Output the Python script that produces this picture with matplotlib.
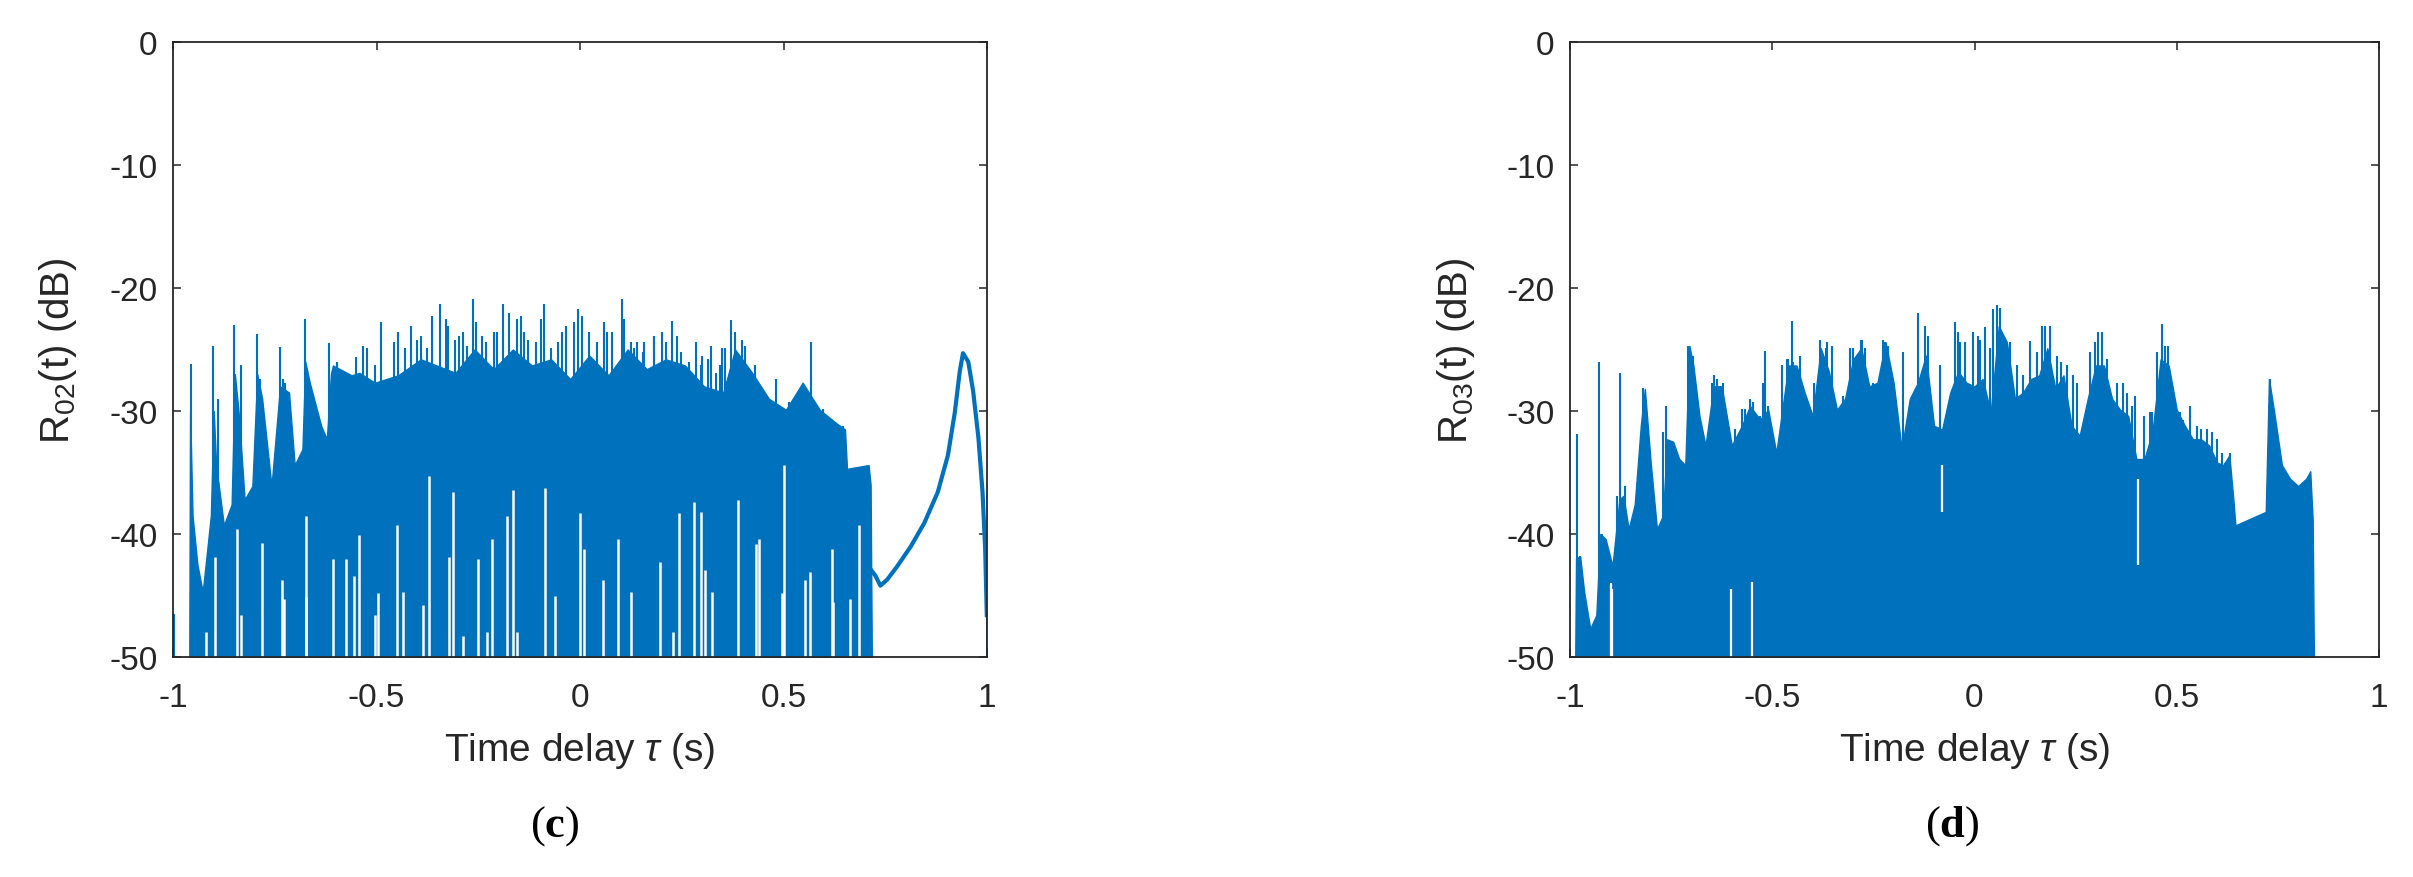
import matplotlib
matplotlib.use('Agg')
import matplotlib.pyplot as plt

plt.rcParams['font.family'] = ['Liberation Sans', 'DejaVu Sans']
plt.rcParams['mathtext.fontset'] = 'custom'
plt.rcParams['mathtext.rm'] = 'Liberation Sans'
plt.rcParams['mathtext.it'] = 'Liberation Sans:italic'
plt.rcParams['mathtext.bf'] = 'Liberation Serif:bold'

BLUE = '#0072BD'
DARK = '#262626'

# ---------------- data ----------------
XTICKS = [-1, -0.5, 0, 0.5, 1]
XTICK_LABELS = ['-1', '-0.5', '0', '0.5', '1']
YTICKS = [-50, -40, -30, -20, -10, 0]
YTICK_LABELS = ['-50', '-40', '-30', '-20', '-10', '0']

# panel (c): R02 — upper envelope of the dense body
L_ENV_TAU = [-0.960, -0.958, -0.952, -0.940, -0.927, -0.915, -0.907, -0.900, -0.894, -0.875,
             -0.856, -0.848, -0.838, -0.824, -0.805, -0.793, -0.781, -0.758, -0.737, -0.715,
             -0.701, -0.682, -0.675, -0.664, -0.636, -0.622, -0.612, -0.607, -0.561, -0.542,
             -0.504, -0.447, -0.391, -0.306, -0.259, -0.212, -0.165, -0.118, -0.071, -0.024,
             0.023, 0.070, 0.117, 0.164, 0.211, 0.258, 0.305, 0.352, 0.381, 0.423,
             0.464, 0.506, 0.547, 0.589, 0.630, 0.651, 0.656, 0.709, 0.714, 0.717]
L_ENV_DB = [-50.0, -30.0, -38.5, -42.5, -44.7, -41.0, -38.5, -30.0, -34.4, -39.3,
            -37.6, -27.0, -30.4, -37.2, -36.1, -27.0, -29.0, -36.1, -28.0, -28.5,
            -34.4, -33.1, -26.0, -27.7, -31.2, -32.3, -27.0, -26.3, -27.1, -26.9,
            -27.7, -27.1, -25.8, -26.9, -25.0, -26.6, -25.0, -26.3, -25.8, -27.4,
            -25.5, -27.1, -25.0, -26.6, -25.8, -26.3, -28.0, -28.5, -25.0, -26.9,
            -29.0, -29.9, -27.7, -29.9, -31.0, -31.5, -34.7, -34.4, -36.0, -50.0]
# peaks rising above the body
L_SPIKE_TAU = [-0.998, -0.957, -0.901, -0.849, -0.793, -0.737, -0.676, -0.617, -0.551, -0.532,
               -0.488, -0.457, -0.416, -0.391, -0.363, -0.344, -0.325, -0.297, -0.278, -0.264,
               -0.241, -0.212, -0.189, -0.156, -0.137, -0.088, -0.053, -0.034, -0.006, 0.023,
               0.060, 0.104, 0.126, 0.140, 0.157, 0.201, 0.225, 0.248, 0.269, 0.286,
               0.314, 0.323, 0.343, 0.372, 0.406, 0.456, 0.527, 0.568, 0.614, 0.647,
               -0.889, -0.833, -0.786, -0.7295, -0.725, -0.673, -0.598, -0.579, -0.523, -0.504,
               -0.447, -0.429, -0.4005, -0.377, -0.330, -0.306, -0.2875, -0.255, -0.231, -0.203,
               -0.175, -0.146, -0.128, -0.109, -0.095, -0.071, -0.043, -0.015, 0.004, 0.0415,
               0.079, 0.107, 0.154, 0.183, 0.211, 0.239, 0.267, 0.300, 0.333, 0.3565,
               0.066, 0.132, 0.182, 0.298, 0.348, 0.381, 0.398, 0.431, 0.481, 0.514,
               0.547, 0.580, 0.597, 0.630]
L_SPIKE_DB = [-46.5, -26.2, -24.7, -23.0, -23.7, -24.8, -22.5, -24.5, -25.6, -24.7,
              -22.8, -24.4, -23.1, -23.9, -22.3, -21.3, -23.1, -23.9, -24.7, -20.9,
              -23.9, -23.6, -21.3, -22.5, -23.6, -21.3, -24.4, -23.1, -21.7, -23.6,
              -22.8, -20.9, -24.4, -24.4, -24.4, -23.6, -22.7, -25.2, -26.0, -24.4,
              -25.8, -24.7, -26.3, -22.6, -24.7, -28.8, -29.6, -24.4, -31.0, -31.2,
              -29.0, -26.3, -27.4, -27.4, -27.7, -27.1, -26.0, -26.9, -24.9, -26.3,
              -23.6, -24.9, -24.2, -24.9, -22.5, -24.2, -23.6, -22.8, -24.4, -23.6,
              -22.0, -22.3, -24.2, -24.4, -22.5, -24.9, -23.6, -22.8, -22.3, -24.4,
              -23.6, -22.5, -25.2, -23.9, -24.4, -23.9, -26.3, -25.5, -26.9, -24.9,
              -23.6, -24.9, -23.9, -26.3, -24.9, -23.6, -24.2, -26.3, -27.4, -29.3,
              -28.0, -29.6, -29.8, -31.0]
# deep notches (white gaps from the floor up)
L_GAP_TAU = [-0.918, -0.898, -0.842, -0.834, -0.781, -0.732, -0.727, -0.673, -0.672, -0.607,
             -0.574, -0.556, -0.543, -0.504, -0.496, -0.449, -0.436, -0.386, -0.372, -0.323,
             -0.311, -0.2875, -0.250, -0.228, -0.217, -0.179, -0.165, -0.156, -0.0855, -0.062,
             0.000, 0.009, 0.056, 0.093, 0.126, 0.197, 0.229, 0.244, 0.281, 0.298,
             0.307, 0.324, 0.389, 0.433, 0.439, 0.496, 0.501, 0.552, 0.564, 0.618,
             0.622, 0.663, 0.685]
L_GAP_DB = [-48.0, -41.9, -39.6, -46.6, -40.7, -43.7, -45.3, -38.5, -45.1, -42.0,
            -42.0, -43.4, -40.1, -46.6, -44.8, -39.3, -44.7, -45.8, -35.3, -41.9,
            -36.6, -48.3, -42.0, -48.0, -40.4, -38.5, -36.4, -48.0, -36.3, -45.0,
            -38.3, -41.2, -43.7, -40.4, -44.7, -42.3, -48.0, -38.3, -37.4, -38.2,
            -42.9, -44.7, -37.2, -40.8, -40.4, -44.8, -34.4, -43.7, -43.1, -41.2,
            -45.5, -45.3, -39.3]
# smooth lobe at the end of the delay range
L_TAIL_TAU = [0.717, 0.726, 0.738, 0.755, 0.780, 0.813, 0.846, 0.879, 0.904, 0.921,
              0.933, 0.941, 0.954, 0.966, 0.979, 0.989, 0.9955, 0.9995]
L_TAIL_DB = [-43.0, -43.4, -44.2, -43.7, -42.6, -41.0, -39.1, -36.6, -33.6, -30.1,
             -26.8, -25.3, -26.0, -28.4, -32.2, -36.6, -41.2, -46.6]

# panel (d): R03 — upper envelope of the dense body
R_ENV_TAU = [-0.987, -0.985, -0.975, -0.965, -0.950, -0.935, -0.925, -0.912, -0.895, -0.878,
             -0.868, -0.855, -0.840, -0.825, -0.815, -0.800, -0.785, -0.770, -0.760, -0.745,
             -0.730, -0.715, -0.705, -0.695, -0.680, -0.665, -0.645, -0.625, -0.600, -0.575,
             -0.555, -0.530, -0.510, -0.490, -0.460, -0.440, -0.420, -0.400, -0.380, -0.360,
             -0.340, -0.320, -0.300, -0.280, -0.260, -0.240, -0.220, -0.200, -0.180, -0.160,
             -0.140, -0.120, -0.100, -0.080, -0.060, -0.040, -0.020, 0.000, 0.020, 0.040,
             0.060, 0.080, 0.100, 0.120, 0.140, 0.160, 0.180, 0.200, 0.220, 0.240,
             0.260, 0.280, 0.300, 0.320, 0.340, 0.360, 0.380, 0.400, 0.420, 0.440,
             0.460, 0.480, 0.500, 0.520, 0.540, 0.560, 0.580, 0.600, 0.615, 0.630,
             0.640, 0.645, 0.720, 0.728, 0.740, 0.760, 0.780, 0.800, 0.820, 0.830,
             0.836, 0.839]
R_ENV_DB = [-50.0, -42.0, -41.8, -44.7, -47.7, -46.6, -40.0, -40.4, -42.6, -37.2,
            -36.9, -39.6, -37.6, -31.2, -28.2, -34.4, -39.6, -38.5, -32.3, -32.5,
            -33.9, -34.4, -24.7, -26.3, -30.4, -32.8, -28.0, -28.0, -32.8, -31.2,
            -29.6, -30.7, -29.9, -33.4, -26.3, -26.3, -28.5, -30.4, -24.9, -26.8,
            -29.9, -29.0, -25.8, -24.9, -28.0, -27.7, -24.4, -27.7, -33.1, -29.0,
            -27.7, -25.5, -31.2, -31.5, -28.5, -26.8, -27.7, -28.0, -27.4, -30.1,
            -23.1, -24.4, -29.0, -28.5, -27.4, -27.1, -24.9, -28.2, -27.1, -31.2,
            -32.0, -29.0, -26.3, -26.3, -29.0, -29.9, -30.4, -33.9, -33.9, -31.7,
            -25.8, -26.3, -29.9, -31.2, -32.3, -32.3, -32.8, -34.2, -34.4, -33.6,
            -37.2, -39.3, -38.2, -27.4, -29.9, -34.4, -35.5, -36.1, -35.5, -34.9,
            -38.8, -50.0]
R_SPIKE_TAU = [-0.982, -0.928, -0.876, -0.819, -0.762, -0.708, -0.645, -0.555, -0.518, -0.460,
               -0.452, -0.382, -0.366, -0.300, -0.280, -0.226, -0.176, -0.139, -0.122, -0.049,
               -0.003, 0.025, 0.055, 0.063, 0.137, 0.174, 0.187, 0.215, 0.244, 0.297,
               0.314, 0.368, 0.397, 0.418, 0.438, 0.463, 0.479, 0.516, 0.533, 0.561,
               0.586, 0.611, 0.631, 0.730,
               -0.975, -0.922, -0.885, -0.864, -0.848, -0.835, -0.815, -0.806, -0.790, -0.778,
               -0.769, -0.753, -0.740, -0.695, -0.679, -0.662, -0.650, -0.637, -0.629, -0.621,
               -0.609, -0.592, -0.576, -0.567, -0.547, -0.530, -0.522, -0.510, -0.477, -0.464,
               -0.448, -0.431, -0.415, -0.398, -0.390, -0.365, -0.353, -0.324, -0.308, -0.279,
               -0.271, -0.250, -0.234, -0.221, -0.213, -0.114, -0.085, -0.040, -0.0235, 0.0095,
               0.0465, -0.036, 0.0136, 0.038, 0.0878, 0.104, 0.121, 0.154, 0.166, 0.203,
               0.228, 0.253, 0.2856, 0.306, 0.327, 0.3515, 0.376, 0.3886, 0.434, 0.450,
               0.471, 0.4875, 0.508, 0.549, 0.574, 0.599, 0.619]
R_SPIKE_DB = [-31.9, -26.0, -26.9, -28.1, -29.6, -24.7, -27.1, -29.0, -25.1, -25.8,
              -22.7, -24.2, -24.9, -24.9, -24.2, -24.2, -25.2, -22.0, -23.1, -22.8,
              -23.6, -23.2, -21.4, -21.6, -24.3, -23.1, -23.1, -26.0, -27.1, -24.4,
              -23.6, -27.7, -28.8, -30.4, -30.1, -22.9, -24.7, -30.7, -29.6, -31.5,
              -31.7, -33.4, -33.4, -27.4,
              -41.8, -40.0, -36.9, -36.1, -39.3, -37.6, -31.2, -35.5, -39.6, -39.3,
              -31.7, -32.5, -33.1, -25.5, -32.5, -32.8, -27.7, -27.4, -28.0, -27.7,
              -33.6, -31.5, -29.8, -29.8, -29.3, -30.4, -27.7, -29.6, -26.3, -25.8,
              -26.0, -25.5, -29.6, -27.7, -28.8, -24.4, -24.7, -28.8, -24.9, -24.2,
              -24.9, -27.7, -27.7, -24.4, -24.7, -23.9, -26.3, -23.6, -24.4, -23.9,
              -21.7, -24.4, -24.2, -24.9, -24.4, -26.3, -27.1, -25.2, -23.1, -25.5,
              -26.3, -27.7, -25.2, -23.6, -25.8, -27.7, -28.5, -29.6, -30.1, -25.2,
              -24.7, -27.7, -30.1, -31.2, -31.5, -32.3, -34.2]
R_GAP_TAU = [-0.899, -0.895, -0.603, -0.550, -0.081, 0.405]
R_GAP_LO = [-50.0, -50.0, -50.0, -50.0, -38.2, -42.5]
R_GAP_HI = [-44.0, -44.5, -44.5, -43.9, -34.4, -35.5]

# ---------------- figure ----------------
W, H = 2413, 878
fig = plt.figure(figsize=(W / 100, H / 100), dpi=100)
ax1 = fig.add_axes([173 / W, 1 - 658 / H, 814 / W, 615 / H])
ax2 = fig.add_axes([1570 / W, 1 - 658 / H, 809 / W, 615 / H])

# panel (c)
ax1.fill_between(L_ENV_TAU, -50, L_ENV_DB, color=BLUE, lw=1.0, zorder=2)
ax1.vlines(L_SPIKE_TAU, -50, L_SPIKE_DB, color=BLUE, lw=1.5, zorder=2)
ax1.vlines(L_GAP_TAU, -50, L_GAP_DB, color='white', lw=1.8, zorder=2.1)
ax1.plot(L_TAIL_TAU, L_TAIL_DB, color=BLUE, lw=3.0, zorder=2)
ax1.vlines([L_TAIL_TAU[-1]], -50, L_TAIL_DB[-1], color=BLUE, lw=1.2, zorder=2)

# panel (d)
ax2.fill_between(R_ENV_TAU, -50, R_ENV_DB, color=BLUE, lw=1.0, zorder=2)
ax2.vlines(R_SPIKE_TAU, -50, R_SPIKE_DB, color=BLUE, lw=1.5, zorder=2)
ax2.vlines(R_GAP_TAU, R_GAP_LO, R_GAP_HI, color='white', lw=1.6, zorder=2.1)

for ax, ylab, tag, cx in [(ax1, r'R$_{02}$(t) (dB)', 'c', 555),
                          (ax2, r'R$_{03}$(t) (dB)', 'd', 1952)]:
    ax.set_xlim(-1, 1)
    ax.set_ylim(-50, 0)
    ax.set_xticks(XTICKS)
    ax.set_xticklabels(XTICK_LABELS)
    ax.set_yticks(YTICKS)
    ax.set_yticklabels(YTICK_LABELS)
    for s in ax.spines.values():
        s.set_color(DARK)
        s.set_linewidth(1.3)
        s.set_zorder(3)
    ax.tick_params(direction='in', length=6, width=1.1, colors=DARK,
                   top=True, right=True, labelsize=24)
    ax.tick_params(axis='x', pad=18)
    ax.tick_params(axis='y', pad=11)
    ax.set_xlabel(r'Time delay $\tau$ (s)', fontsize=28, color=DARK)
    ax.xaxis.set_label_coords(0.5, -0.119)
    ax.set_ylabel(ylab, fontsize=29, color=DARK)
    ax.yaxis.set_label_coords(-0.1155, 0.5)
    fig.text(cx / W, 1 - 826 / H, '($\\mathbf{' + tag + '}$)',
             fontsize=32, family='Liberation Serif', ha='center', va='center',
             color='black')

fig.savefig('out.png', dpi=100, facecolor='white')
